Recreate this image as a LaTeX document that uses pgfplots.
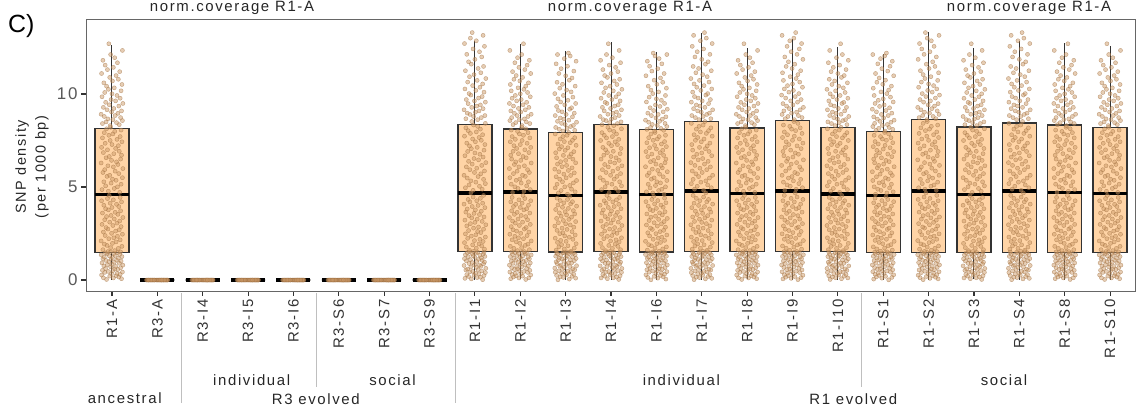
\documentclass[border=0pt]{standalone}
\usepackage{fontspec}
\setmainfont{Liberation Sans}[LetterSpace=11]
\usepackage{pgfplots}
\pgfplotsset{compat=1.18}
\usepackage{pgfplotstable}
\usepgfplotslibrary{statistics}

\definecolor{boxfill}{RGB}{255,212,166}
\definecolor{ptfill}{RGB}{205,155,105}
\definecolor{ptdraw}{RGB}{160,112,65}

% jittered SNP densities per window: two jitter columns, three density columns
\pgfplotstableread{
d1 d2 ya yb yc
-0.12 0.17 0.03 0.02 0.01
0.21 -0.08 0.07 0.06 0.05
0.03 -0.22 0.11 0.09 0.10
-0.19 0.05 0.12 0.13 0.14
0.15 0.12 0.16 0.15 0.17
-0.05 -0.14 0.21 0.19 0.20
0.09 0.20 0.23 0.24 0.25
-0.23 -0.02 0.27 0.26 0.28
0.18 -0.18 0.30 0.29 0.31
-0.01 0.09 0.34 0.33 0.35
0.11 0.01 0.36 0.37 0.38
-0.16 0.23 0.41 0.40 0.42
0.23 -0.11 0.43 0.44 0.45
-0.08 -0.05 0.46 0.47 0.48
0.02 0.15 0.51 0.49 0.50
-0.21 -0.20 0.52 0.54 0.55
0.13 0.07 0.57 0.56 0.58
0.06 -0.16 0.60 0.59 0.61
-0.14 0.24 0.62 0.63 0.64
0.19 0.03 0.66 0.68 0.67
-0.03 -0.09 0.71 0.70 0.72
0.08 0.13 0.73 0.74 0.75
-0.18 -0.24 0.76 0.78 0.77
0.24 0.10 0.80 0.81 0.81
-0.10 -0.01 0.83 0.82 0.84
0.00 0.19 0.85 0.87 0.88
0.16 -0.13 0.90 0.89 0.91
-0.22 -0.06 0.92 0.94 0.93
0.05 0.21 0.96 0.97 0.98
-0.07 0.04 0.99 1.00 1.01
0.20 -0.19 1.02 1.03 1.04
-0.13 0.16 1.05 1.06 1.08
0.10 -0.10 1.07 1.10 1.09
-0.02 0.08 1.12 1.11 1.13
-0.20 -0.23 1.14 1.15 1.16
0.14 0.14 1.17 1.19 1.18
0.01 0.00 1.21 1.22 1.20
-0.17 -0.15 1.23 1.25 1.24
0.22 0.22 1.26 1.27 1.28
-0.06 -0.04 1.30 1.31 1.29
0.07 0.11 1.32 1.34 1.33
-0.24 -0.21 1.35 1.36 1.37
0.17 0.18 1.38 1.39 1.40
-0.11 -0.07 1.41 1.42 1.42
0.04 0.02 1.43 1.45 1.44
-0.15 -0.17 1.46 1.47 1.45
0.12 0.06 1.48 1.49 1.47
-0.04 0.20 1.50 1.50 1.48
0.19 -0.12 1.51 1.52 1.49
-0.09 -0.03 1.53 1.54 1.51
0.06 -0.12 1.58 1.60 1.55
-0.20 0.21 1.63 1.66 1.61
0.14 0.03 1.70 1.71 1.67
-0.03 -0.19 1.74 1.77 1.72
0.22 0.15 1.81 1.83 1.78
-0.11 -0.05 1.86 1.89 1.84
-0.17 0.09 1.93 1.94 1.90
0.01 -0.23 1.97 2.01 1.95
0.09 0.18 2.05 2.07 2.02
-0.24 -0.01 2.10 2.12 2.08
0.18 0.11 2.16 2.19 2.13
-0.07 -0.16 2.22 2.24 2.19
0.04 0.23 2.27 2.31 2.25
0.12 -0.08 2.35 2.36 2.30
-0.15 0.02 2.39 2.43 2.37
0.23 -0.21 2.46 2.48 2.42
-0.01 0.13 2.51 2.55 2.49
-0.19 0.06 2.58 2.61 2.54
0.08 -0.14 2.63 2.66 2.60
0.16 0.19 2.70 2.73 2.67
-0.09 -0.03 2.74 2.79 2.72
-0.13 0.08 2.82 2.85 2.79
0.20 -0.18 2.87 2.91 2.84
0.02 0.24 2.93 2.97 2.90
-0.22 -0.10 2.99 3.03 2.96
0.11 0.00 3.06 3.10 3.02
-0.05 0.16 3.11 3.15 3.08
0.17 -0.22 3.17 3.22 3.14
-0.16 0.05 3.24 3.27 3.20
0.05 -0.07 3.28 3.34 3.26
0.24 0.20 3.36 3.39 3.31
-0.12 -0.13 3.41 3.46 3.38
-0.02 0.10 3.47 3.52 3.43
0.13 -0.02 3.53 3.58 3.50
-0.21 -0.20 3.60 3.65 3.55
0.07 0.14 3.64 3.70 3.61
0.19 0.01 3.72 3.77 3.67
-0.08 -0.17 3.77 3.82 3.73
-0.14 0.22 3.83 3.89 3.79
0.00 -0.06 3.90 3.95 3.85
0.15 0.07 3.95 4.01 3.91
-0.18 -0.24 4.02 4.08 3.97
0.10 0.17 4.07 4.13 4.03
-0.04 -0.11 4.13 4.20 4.09
0.21 0.04 4.20 4.26 4.15
-0.23 -0.15 4.26 4.33 4.21
0.03 0.12 4.31 4.39 4.27
-0.10 -0.04 4.38 4.46 4.33
0.18 0.19 4.44 4.55 4.40
-0.06 -0.09 4.55 4.68 4.50
0.17 -0.04 4.71 4.82 4.61
-0.08 0.16 4.77 4.88 4.68
-0.22 -0.21 4.86 4.96 4.74
0.05 0.10 4.92 5.04 4.81
0.12 -0.13 5.01 5.11 4.88
-0.14 0.23 5.06 5.18 4.95
0.20 0.02 5.15 5.26 5.01
-0.02 -0.09 5.21 5.33 5.08
-0.18 0.19 5.28 5.41 5.15
0.09 -0.17 5.36 5.48 5.22
0.01 0.07 5.42 5.56 5.28
0.23 -0.24 5.50 5.63 5.35
-0.11 0.13 5.57 5.71 5.42
-0.05 -0.01 5.63 5.78 5.49
0.15 0.21 5.72 5.86 5.55
-0.20 -0.11 5.78 5.93 5.62
0.07 0.04 5.85 6.01 5.69
-0.16 -0.19 5.93 6.08 5.76
0.24 0.15 5.99 6.16 5.82
0.03 -0.06 6.08 6.23 5.89
-0.09 0.24 6.14 6.31 5.96
0.13 -0.14 6.21 6.38 6.03
-0.24 0.08 6.29 6.46 6.09
0.10 -0.02 6.35 6.53 6.16
-0.01 0.18 6.43 6.61 6.23
0.19 -0.22 6.50 6.68 6.30
-0.13 0.11 6.57 6.76 6.36
-0.06 0.00 6.64 6.83 6.43
0.21 -0.16 6.71 6.91 6.50
0.04 0.20 6.79 6.98 6.57
-0.19 -0.08 6.85 7.06 6.63
0.16 0.05 6.92 7.13 6.70
-0.10 -0.12 7.00 7.21 6.77
0.08 0.22 7.07 7.28 6.84
-0.23 -0.18 7.13 7.36 6.90
0.14 0.01 7.22 7.43 6.97
0.00 0.14 7.28 7.51 7.04
-0.15 -0.05 7.35 7.58 7.11
0.22 0.09 7.43 7.66 7.17
-0.04 -0.23 7.50 7.73 7.24
0.11 0.17 7.56 7.81 7.31
-0.21 -0.10 7.64 7.88 7.38
0.18 0.03 7.71 7.96 7.44
-0.07 -0.15 7.78 8.03 7.51
0.02 0.12 7.85 8.11 7.58
-0.17 -0.20 7.92 8.18 7.65
0.06 0.06 7.99 8.26 7.71
0.20 -0.03 8.06 8.33 7.78
-0.12 0.23 8.13 8.42 7.85
-0.03 -0.07 8.21 8.52 7.93
-0.04 0.06 8.30 8.62 8.01
0.16 -0.20 8.35 8.67 8.05
-0.21 0.14 8.41 8.73 8.10
0.10 -0.03 8.46 8.79 8.15
-0.13 0.22 8.50 8.84 8.20
0.23 -0.11 8.57 8.90 8.25
0.02 -0.17 8.62 8.97 8.31
-0.09 0.01 8.66 9.02 8.36
0.19 0.09 8.73 9.09 8.42
-0.17 -0.24 8.79 9.15 8.48
0.07 0.18 8.84 9.21 8.53
-0.24 -0.07 8.91 9.28 8.59
0.13 0.04 8.96 9.35 8.65
-0.01 0.12 9.03 9.41 8.71
0.21 -0.15 9.09 9.48 8.77
-0.11 0.23 9.15 9.56 8.84
0.04 -0.01 9.22 9.63 8.90
-0.19 -0.19 9.28 9.70 8.97
0.15 0.08 9.35 9.78 9.04
-0.06 0.16 9.42 9.86 9.11
0.24 -0.09 9.49 9.94 9.18
-0.14 -0.13 9.55 10.02 9.26
0.08 0.20 9.63 10.10 9.33
-0.02 0.02 9.70 10.19 9.41
0.18 -0.22 9.77 10.27 9.49
-0.22 0.11 9.85 10.36 9.57
0.11 -0.05 9.92 10.45 9.66
0.00 0.17 10.01 10.54 9.74
-0.16 -0.16 10.08 10.64 9.83
0.20 0.05 10.17 10.73 9.92
-0.08 0.24 10.25 10.83 10.02
0.05 -0.12 10.33 10.93 10.11
-0.12 -0.02 10.42 11.04 10.21
0.22 0.13 10.51 11.14 10.31
-0.18 -0.21 10.60 11.25 10.42
0.01 0.07 10.70 11.37 10.52
0.14 0.19 10.79 11.48 10.63
-0.05 -0.08 10.89 11.60 10.74
0.09 -0.14 10.99 11.73 10.86
-0.23 0.00 11.10 11.86 10.98
0.17 0.15 11.20 11.99 11.10
-0.10 -0.18 11.31 12.13 11.23
0.03 0.10 11.43 12.27 11.36
-0.15 -0.04 11.55 12.42 11.49
0.12 0.21 11.68 12.56 11.62
-0.20 -0.23 11.81 12.71 11.76
0.06 0.03 11.95 12.86 11.90
-0.03 -0.10 12.12 13.00 12.04
0.23 0.18 12.34 13.15 12.12
-0.07 -0.06 12.70 13.30 12.20
}\pts

% R3 lines: every window at zero
\pgfplotstableread{
dx y
-0.22 0
0.19 0
-0.15 0
0.08 0
-0.03 0
0.14 0
-0.19 0
0.01 0
0.22 0
-0.09 0
0.11 0
-0.12 0
0.05 0
-0.24 0
0.17 0
-0.06 0
0.20 0
-0.01 0
0.09 0
-0.17 0
0.13 0
-0.11 0
0.03 0
0.23 0
-0.07 0
0.16 0
-0.20 0
0.06 0
-0.14 0
0.10 0
}\zeros

\pgfplotsset{
  bx/.style={draw=black!80, fill=boxfill, line width=1.3bp,
    boxplot/draw direction=y,
    boxplot/box extend=0.75, boxplot/whisker extend=0,
    boxplot/every whisker/.style={line width=1bp},
    boxplot/every median/.style={draw=black, line width=3.6bp}},
  pts/.style={only marks, mark=*, mark size=2.05bp,
    mark options={fill=ptfill, draw=ptdraw, line width=0.4bp,
      fill opacity=0.5, draw opacity=0.6}},
}

\begin{document}
\begin{tikzpicture}
\useasboundingbox (0,0) rectangle (1138bp,413bp);
\begin{axis}[
  at={(86bp,122bp)}, anchor=south west,
  scale only axis, width=1049bp, height=272bp,
  xmin=-0.573, xmax=22.55, ymin=-0.59, ymax=14.03,
  axis line style={draw=black!60, line width=0.9bp},
  tick align=outside, tick pos=left,
  major tick length=5bp,
  tick style={draw=black!80, line width=1.1bp},
  xtick={0,...,22},
  xticklabels={R1-A,R3-A,R3-I4,R3-I5,R3-I6,R3-S6,R3-S7,R3-S9,R1-I1,R1-I2,R1-I3,R1-I4,R1-I6,R1-I7,R1-I8,R1-I9,R1-I10,R1-S1,R1-S2,R1-S3,R1-S4,R1-S8,R1-S10},
  x tick label style={rotate=90, anchor=east, font=\fontsize{15}{15}\selectfont, text=black!80},
  ytick={0,5,10},
  y tick label style={font=\fontsize{17}{17}\selectfont, text=black!65},
  /pgf/number format/assume math mode=true,
]
% boxes
\addplot[bx, boxplot prepared={draw position=0, lower whisker=0.02, lower quartile=1.49, median=4.60, upper quartile=8.15, upper whisker=12.63}] coordinates {};
\pgfplotsinvokeforeach{1,...,7}{
\addplot[bx, boxplot prepared={draw position=#1, lower whisker=0, lower quartile=0, median=0, upper quartile=0, upper whisker=0}] coordinates {};
}
\addplot[bx, boxplot prepared={draw position=8, lower whisker=0.02, lower quartile=1.54, median=4.69, upper quartile=8.37, upper whisker=12.85}] coordinates {};
\addplot[bx, boxplot prepared={draw position=9, lower whisker=0.03, lower quartile=1.53, median=4.73, upper quartile=8.12, upper whisker=12.67}] coordinates {};
\addplot[bx, boxplot prepared={draw position=10, lower whisker=0.01, lower quartile=1.50, median=4.55, upper quartile=7.92, upper whisker=12.33}] coordinates {};
\addplot[bx, boxplot prepared={draw position=11, lower whisker=0.02, lower quartile=1.53, median=4.73, upper quartile=8.37, upper whisker=12.78}] coordinates {};
\addplot[bx, boxplot prepared={draw position=12, lower whisker=0.01, lower quartile=1.50, median=4.59, upper quartile=8.08, upper whisker=12.27}] coordinates {};
\addplot[bx, boxplot prepared={draw position=13, lower whisker=0.02, lower quartile=1.53, median=4.80, upper quartile=8.53, upper whisker=13.26}] coordinates {};
\addplot[bx, boxplot prepared={draw position=14, lower whisker=0.03, lower quartile=1.53, median=4.66, upper quartile=8.17, upper whisker=12.45}] coordinates {};
\addplot[bx, boxplot prepared={draw position=15, lower whisker=0.02, lower quartile=1.53, median=4.78, upper quartile=8.58, upper whisker=12.96}] coordinates {};
\addplot[bx, boxplot prepared={draw position=16, lower whisker=0.01, lower quartile=1.53, median=4.62, upper quartile=8.21, upper whisker=12.54}] coordinates {};
\addplot[bx, boxplot prepared={draw position=17, lower whisker=0.01, lower quartile=1.49, median=4.55, upper quartile=7.99, upper whisker=12.13}] coordinates {};
\addplot[bx, boxplot prepared={draw position=18, lower whisker=0.02, lower quartile=1.49, median=4.78, upper quartile=8.64, upper whisker=13.35}] coordinates {};
\addplot[bx, boxplot prepared={draw position=19, lower whisker=0.03, lower quartile=1.49, median=4.59, upper quartile=8.23, upper whisker=12.45}] coordinates {};
\addplot[bx, boxplot prepared={draw position=20, lower whisker=0.02, lower quartile=1.49, median=4.77, upper quartile=8.44, upper whisker=12.87}] coordinates {};
\addplot[bx, boxplot prepared={draw position=21, lower whisker=0.02, lower quartile=1.49, median=4.71, upper quartile=8.33, upper whisker=12.72}] coordinates {};
\addplot[bx, boxplot prepared={draw position=22, lower whisker=0.02, lower quartile=1.49, median=4.64, upper quartile=8.21, upper whisker=12.60}] coordinates {};
% jittered windows
\addplot[pts] table[x expr=\thisrow{d1}+0, y=ya] {\pts};
\pgfplotsinvokeforeach{1,...,7}{
\addplot[pts] table[x expr=\thisrow{dx}+#1, y=y] {\zeros};
}
\addplot[pts] table[x expr=\thisrow{d2}+8, y=yb] {\pts};
\addplot[pts] table[x expr=9-\thisrow{d1}, y=ya] {\pts};
\addplot[pts] table[x expr=10-\thisrow{d2}, y=yc] {\pts};
\addplot[pts] table[x expr=\thisrow{d2}+11, y=ya] {\pts};
\addplot[pts] table[x expr=\thisrow{d1}+12, y=yc] {\pts};
\addplot[pts] table[x expr=13-\thisrow{d2}, y=yb] {\pts};
\addplot[pts] table[x expr=\thisrow{d1}+14, y=ya] {\pts};
\addplot[pts] table[x expr=15-\thisrow{d1}, y=yb] {\pts};
\addplot[pts] table[x expr=16-\thisrow{d2}, y=ya] {\pts};
\addplot[pts] table[x expr=17-\thisrow{d1}, y=yc] {\pts};
\addplot[pts] table[x expr=\thisrow{d1}+18, y=yb] {\pts};
\addplot[pts] table[x expr=\thisrow{d2}+19, y=ya] {\pts};
\addplot[pts] table[x expr=20-\thisrow{d2}, y=yb] {\pts};
\addplot[pts] table[x expr=21-\thisrow{d1}, y=ya] {\pts};
\addplot[pts] table[x expr=\thisrow{d1}+22, y=ya] {\pts};
\end{axis}

% group brackets below the sample names
\draw[black!25, line width=1bp] (181bp,120bp) -- (181bp,10bp);
\draw[black!25, line width=1bp] (316bp,120bp) -- (316bp,26bp);
\draw[black!25, line width=1bp] (455bp,120bp) -- (455bp,10bp);
\draw[black!25, line width=1bp] (861bp,120bp) -- (861bp,26bp);

\begin{scope}[every node/.style={font=\fontsize{15}{15}\selectfont, text=black!85, inner sep=0pt, anchor=base}]
\node at (251.7bp,28bp) {individual};
\node at (392.5bp,28bp) {social};
\node at (681.3bp,28bp) {individual};
\node at (1004bp,28bp) {social};
\node at (124.7bp,10bp) {ancestral};
\node at (315.8bp,9bp) {R3 evolved};
\node at (853.3bp,9bp) {R1 evolved};
\node at (232bp,401bp) {norm.coverage R1-A};
\node at (630bp,401bp) {norm.coverage R1-A};
\node at (1029bp,401bp) {norm.coverage R1-A};
\end{scope}

\node[rotate=90, align=center, font=\fontsize{14.5}{20}\selectfont, text=black!85] at (32bp,246bp) {SNP density\\(per 1000 bp)};
\node[anchor=base west, inner sep=0pt, font={\fontsize{25}{25}\selectfont\addfontfeature{LetterSpace=0}}] at (8bp,380bp) {C)};
\end{tikzpicture}
\end{document}
